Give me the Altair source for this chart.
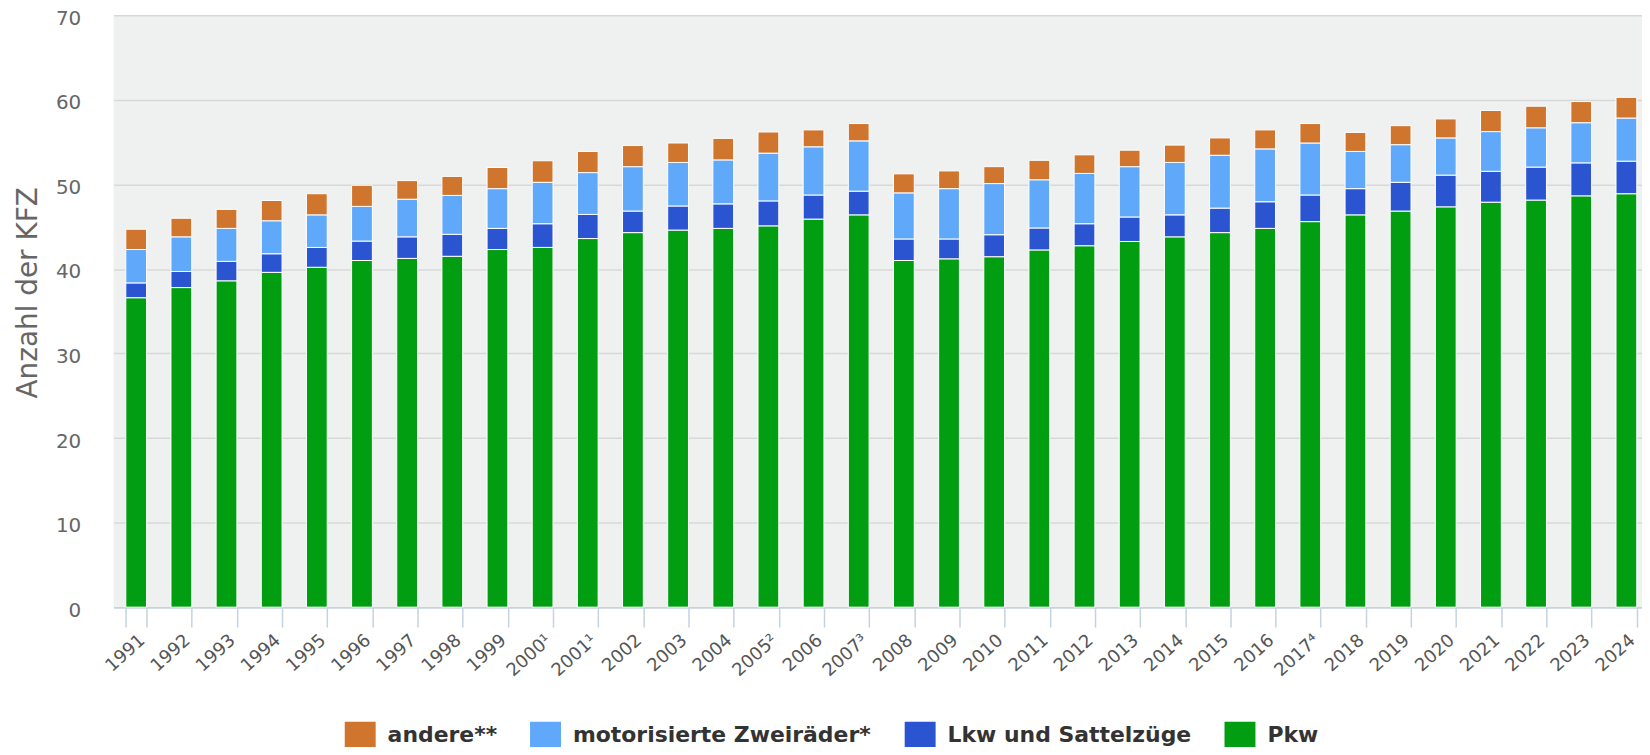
import altair as alt
import pandas as pd

years = ["1991", "1992", "1993", "1994", "1995", "1996", "1997", "1998", "1999",
         "2000¹", "2001¹", "2002", "2003", "2004", "2005²", "2006", "2007³", "2008",
         "2009", "2010", "2011", "2012", "2013", "2014", "2015", "2016", "2017⁴",
         "2018", "2019", "2020", "2021", "2022", "2023", "2024"]

pkw = [36.6, 37.8, 38.6, 39.6, 40.2, 41.0, 41.25, 41.5, 42.3, 42.55, 43.6, 44.3,
       44.6, 44.8, 45.1, 45.9, 46.4, 41.0, 41.2, 41.45, 42.25, 42.75, 43.25, 43.8,
       44.3, 44.8, 45.6, 46.4, 46.85, 47.35, 47.9, 48.15, 48.65, 48.9]
lkw = [1.75, 1.9, 2.3, 2.2, 2.35, 2.3, 2.55, 2.6, 2.5, 2.8, 2.85, 2.55, 2.85, 2.9,
       2.95, 2.85, 2.8, 2.55, 2.35, 2.6, 2.6, 2.6, 2.9, 2.6, 2.9, 3.15, 3.15, 3.1,
       3.4, 3.75, 3.65, 3.9, 3.9, 3.85]
zweiraeder = [3.95, 4.1, 3.9, 3.9, 3.85, 4.1, 4.45, 4.6, 4.7, 4.9, 4.95, 5.25, 5.15,
              5.2, 5.65, 5.7, 5.95, 5.45, 5.95, 6.05, 5.7, 5.95, 5.95, 6.2, 6.25,
              6.25, 6.15, 4.4, 4.45, 4.4, 4.7, 4.65, 4.75, 5.1]
andere = [2.4, 2.2, 2.25, 2.4, 2.5, 2.5, 2.2, 2.25, 2.5, 2.55, 2.5, 2.5, 2.3, 2.55,
          2.5, 2.0, 2.05, 2.25, 2.1, 2.0, 2.3, 2.2, 1.95, 2.05, 2.05, 2.25, 2.3,
          2.25, 2.25, 2.25, 2.5, 2.55, 2.5, 2.45]

categories = ["andere**", "motorisierte Zweiräder*", "Lkw und Sattelzüge", "Pkw"]
colors = ["#d0752e", "#60a8fa", "#2b55d0", "#009e10"]
series = {"Pkw": pkw, "Lkw und Sattelzüge": lkw,
          "motorisierte Zweiräder*": zweiraeder, "andere**": andere}
stack_order = {"Pkw": 0, "Lkw und Sattelzüge": 1, "motorisierte Zweiräder*": 2, "andere**": 3}

rows = []
for cat, vals in series.items():
    for y, v in zip(years, vals):
        rows.append({"jahr": y, "kat": cat, "wert": v, "ord": stack_order[cat]})
df = pd.DataFrame(rows)

rect_path = "M-1.15,-1L1.15,-1L1.15,1L-1.15,1Z"

chart = alt.Chart(df).mark_bar(stroke="white", strokeWidth=1).encode(
    x=alt.X("jahr:N", sort=years,
            scale=alt.Scale(range=[0, 1541], paddingInner=0.54, paddingOuter=0.27),
            axis=alt.Axis(title=None, labelAngle=-42, tickBand="extent", tickSize=20,
                          tickColor="#c4d2e2", tickWidth=1.5, domainColor="#c4d2e2",
                          domainWidth=1.5, labelFont="DejaVu Sans", labelFontSize=18,
                          labelColor="#555555", labelPadding=4, grid=False)),
    y=alt.Y("wert:Q", stack="zero", scale=alt.Scale(domain=[0, 70], nice=False),
            axis=alt.Axis(title="Anzahl der KFZ", values=[0, 10, 20, 30, 40, 50, 60, 70],
                          domain=False, ticks=False, labelPadding=33, labelOffset=3,
                          labelFont="DejaVu Sans", labelFontSize=20, labelColor="#666666",
                          grid=True, gridColor="#d8d8d8", gridWidth=1.5,
                          titleFont="DejaVu Sans", titleFontSize=28, titleFontWeight="normal",
                          titleColor="#666666", titleAngle=270, titleX=-85, titleY=278,
                          titleAlign="center", titleBaseline="middle")),
    color=alt.Color("kat:N", scale=alt.Scale(domain=categories, range=colors),
                    legend=alt.Legend(title=None, orient="none", direction="horizontal",
                                      legendX=234, legendY=709, symbolType=rect_path,
                                      symbolSize=729, symbolStrokeWidth=0,
                                      labelFont="DejaVu Sans", labelFontSize=22,
                                      labelFontWeight="bold", labelColor="#333333",
                                      labelOffset=14, columnPadding=32, labelLimit=0,
                                      padding=0)),
    order=alt.Order("ord:Q", sort="ascending"),
).properties(
    width=1534, height=594,
    autosize=alt.AutoSizeParams(type="none"),
    padding={"left": 106, "top": 6, "right": 0, "bottom": 139},
).configure_view(fill="#eff1f0", stroke=None)

chart.save("out.html", embed_options={"renderer": "svg", "actions": False})
